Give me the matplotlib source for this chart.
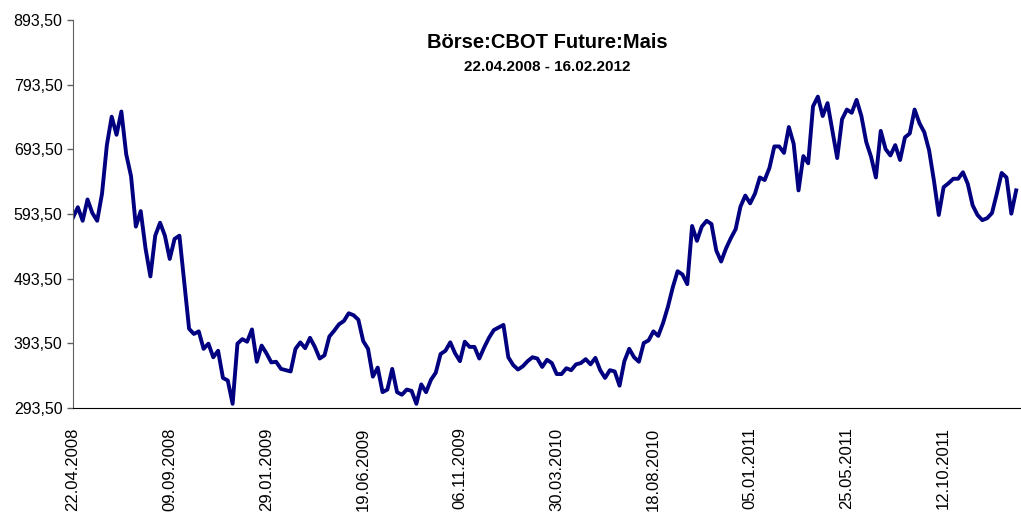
import numpy as np
import matplotlib
matplotlib.use("Agg")
import matplotlib.pyplot as plt
from matplotlib.ticker import FuncFormatter

price = [588, 604, 583, 616, 595, 583, 625, 700, 744, 716,
         752, 686, 652, 574, 598, 540, 497, 560, 580, 560,
         524, 555, 560, 488, 416, 408, 412, 385, 393, 372,
         382, 340, 336, 300, 393, 400, 396, 415, 365, 390,
         378, 364, 365, 354, 352, 350, 385, 395, 386, 402,
         388, 370, 375, 404, 413, 423, 428, 440, 437, 430,
         397, 385, 342, 356, 318, 322, 354, 318, 314, 322,
         320, 300, 330, 318, 337, 348, 377, 382, 395, 378,
         366, 396, 388, 388, 370, 387, 402, 414, 418, 422,
         372, 360, 353, 358, 366, 372, 370, 357, 368, 363,
         346, 346, 355, 352, 361, 363, 369, 361, 371, 352,
         340, 352, 350, 328, 366, 385, 372, 365, 394, 398,
         412, 405, 425, 450, 480, 505, 500, 485, 575, 552,
         574, 583, 578, 537, 520, 540, 556, 570, 605, 622,
         610, 625, 650, 646, 665, 698, 698, 688, 728, 702,
         630, 683, 672, 760, 775, 745, 765, 722, 680, 740,
         755, 750, 770, 745, 705, 682, 650, 722, 694, 684,
         700, 677, 712, 718, 755, 734, 720, 692, 645, 592,
         635, 641, 648, 648, 658, 640, 607, 592, 584, 587,
         595, 625, 657, 650, 594, 630]
step = 5  # Handelstage pro Wert
tick_days = [0, 100, 200, 300, 400, 500, 600, 700, 800, 900]
tick_labels = ["22.04.2008", "09.09.2008", "29.01.2009", "19.06.2009",
               "06.11.2009", "30.03.2010", "18.08.2010", "05.01.2011",
               "25.05.2011", "12.10.2011"]
y_ticks = [293.5, 393.5, 493.5, 593.5, 693.5, 793.5, 893.5]

plt.rcParams['font.family'] = ['Liberation Sans', 'DejaVu Sans']

fig = plt.figure(figsize=(10.21, 5.17), dpi=100)
ax = fig.add_axes([73/1021, 1-408/517, 1-73/1021, (408-20)/517])

days = np.arange(len(price)) * step
ax.plot(days, price, color='#000080', lw=2.8, solid_joinstyle='round')

ax.set_xlim(0, 980)
ax.set_ylim(293.5, 893.5)
ax.set_yticks(y_ticks)
ax.yaxis.set_major_formatter(FuncFormatter(lambda v, p: f"{v:.2f}".replace('.', ',')))
ax.set_xticks(tick_days)
ax.set_xticklabels(tick_labels, rotation=90, va='top', ha='center')
ax.tick_params(axis='y', labelsize=11.5, length=4.5, color='#606060', width=1, pad=3)
ax.tick_params(axis='x', labelsize=12, length=0, pad=14)

for s in ['top', 'right']:
    ax.spines[s].set_visible(False)
ax.spines['left'].set_color('#606060')
ax.spines['bottom'].set_color('black')

cx = (73 + 1021) / 2 / 1021
fig.text(cx, 1-43/517, "Börse:CBOT Future:Mais", ha='center', va='center',
         fontsize=14.5, fontweight='bold')
fig.text(cx, 1-67/517, "22.04.2008 - 16.02.2012", ha='center', va='center',
         fontsize=11, fontweight='bold')

fig.savefig("out.png", dpi=100)
